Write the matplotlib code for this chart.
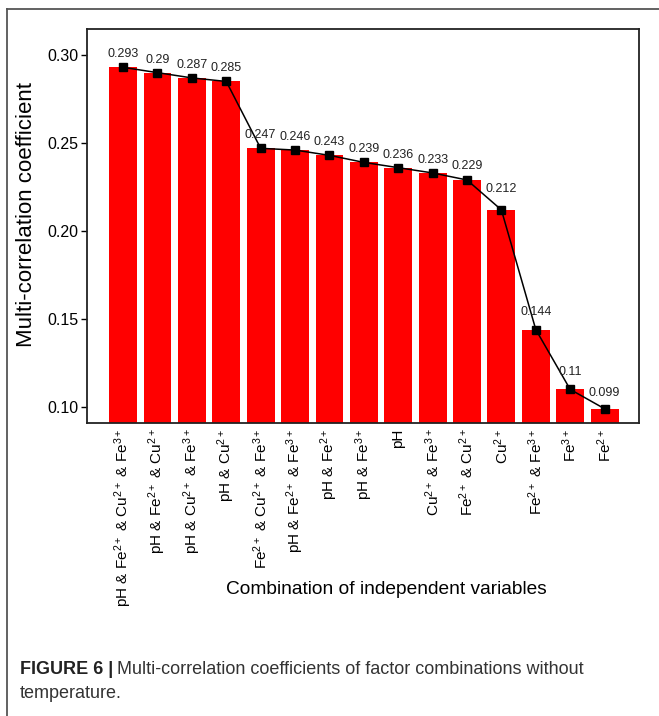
import numpy as np
import matplotlib
matplotlib.use('Agg')
import matplotlib.pyplot as plt
from matplotlib.lines import Line2D

plt.rcParams['font.family'] = ['Liberation Sans', 'DejaVu Sans']
plt.rcParams['mathtext.fontset'] = 'custom'
plt.rcParams['mathtext.rm'] = 'Liberation Sans'
plt.rcParams['mathtext.it'] = 'Liberation Sans:italic'
plt.rcParams['mathtext.bf'] = 'Liberation Sans:bold'

# данные
combos = [
    r'pH & Fe$^{2+}$ & Cu$^{2+}$ & Fe$^{3+}$',
    r'pH & Fe$^{2+}$ & Cu$^{2+}$',
    r'pH & Cu$^{2+}$ & Fe$^{3+}$',
    r'pH & Cu$^{2+}$',
    r'Fe$^{2+}$ & Cu$^{2+}$ & Fe$^{3+}$',
    r'pH & Fe$^{2+}$ & Fe$^{3+}$',
    r'pH & Fe$^{2+}$',
    r'pH & Fe$^{3+}$',
    r'pH',
    r'Cu$^{2+}$ & Fe$^{3+}$',
    r'Fe$^{2+}$ & Cu$^{2+}$',
    r'Cu$^{2+}$',
    r'Fe$^{2+}$ & Fe$^{3+}$',
    r'Fe$^{3+}$',
    r'Fe$^{2+}$',
]
coef = [0.293, 0.29, 0.287, 0.285, 0.247, 0.246, 0.243, 0.239,
        0.236, 0.233, 0.229, 0.212, 0.144, 0.11, 0.099]
yticks = [0.10, 0.15, 0.20, 0.25, 0.30]
label_dy = [5, 5, 5, 5, 5, 5, 5, 5, 5, 5, 6, 11, 8, 8, 7]  # смещение подписей, pt

fig = plt.figure(figsize=(6.59, 7.16), dpi=100)
ax = fig.add_axes([0.132, 0.4092, 0.8376, 0.5503])

x = np.arange(len(coef))
ax.bar(x, coef, width=0.81, color='#ff0000', zorder=2)
ax.plot(x, coef, color='black', lw=1.1, marker='s', ms=5.5, zorder=3)
for xi, v, dy in zip(x, coef, label_dy):
    ax.annotate(f'{v:g}', (xi, v), xytext=(0, dy), textcoords='offset points',
                ha='center', va='bottom', fontsize=9, color='#222222')

ax.set_xlim(-1.05, 15.0)
ax.set_ylim(0.0909, 0.3148)
ax.set_yticks(yticks)
ax.set_yticklabels([f'{t:.2f}' for t in yticks])
ax.set_xticks(x)
ax.set_xticklabels(combos, rotation=90, fontsize=11)
ax.tick_params(axis='x', length=0, pad=4)
ax.tick_params(axis='y', length=4, width=1, labelsize=11.5, pad=2)
for s in ax.spines.values():
    s.set_linewidth(1.3)
    s.set_color('#222222')

ax.set_ylabel('Multi-correlation coefficient', fontsize=16)
ax.yaxis.set_label_coords(-0.0906, 0.528)
fig.text(386 / 659, 1 - 590 / 716, 'Combination of independent variables',
         ha='center', va='center', fontsize=13.8)

# рамка
fig.add_artist(Line2D([7 / 659, 1.0], [1 - 9 / 716] * 2, color='#555555', lw=1.3))
fig.add_artist(Line2D([7 / 659] * 2, [0.0, 1 - 9 / 716], color='#555555', lw=1.3))

# подпись
t1 = fig.text(20 / 659, 1 - 669 / 716, 'FIGURE 6 |', weight='bold',
              fontsize=13, color='#222222', va='center')
fig.canvas.draw()
bb = t1.get_window_extent()
fig.text((bb.x1 + 4) / 659, 1 - 669 / 716,
         'Multi-correlation coefficients of factor combinations without',
         fontsize=13, color='#333333', va='center')
fig.text(20 / 659, 1 - 693 / 716, 'temperature.',
         fontsize=13, color='#333333', va='center')

fig.savefig('out.png', dpi=100)
